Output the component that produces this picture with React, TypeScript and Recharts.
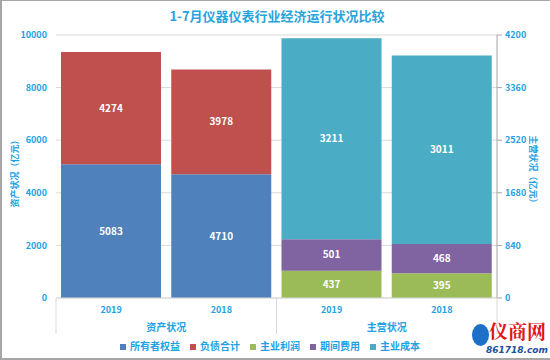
import { Bar, ComposedChart, XAxis, YAxis, CartesianGrid, Legend, LabelList } from "recharts";

const years = ["2019", "2018", "2019", "2018"];
const groups = ["资产状况", "资产状况", "主营状况", "主营状况"];
const ownerEquity = [5083, 4710, null, null];
const liabilities = [4274, 3978, null, null];
const mainProfit = [null, null, 437, 395];
const periodExpense = [null, null, 501, 468];
const mainCost = [null, null, 3211, 3011];
const leftTicks = [0, 2000, 4000, 6000, 8000, 10000];
const rightTicks = [0, 840, 1680, 2520, 3360, 4200];

const data = years.map((year, i) => ({
  name: year,
  group: groups[i],
  owner: ownerEquity[i],
  debt: liabilities[i],
  profit: mainProfit[i],
  expense: periodExpense[i],
  cost: mainCost[i],
}));

const BLUE_TEXT = "#1ea2e3";
const FONT = "'Noto Sans CJK SC', 'Noto Sans', sans-serif";
const GRID = "#d9d9d9";

const series = [
  { key: "owner", name: "所有者权益", color: "#4f81bd", axis: "left", stack: "asset" },
  { key: "debt", name: "负债合计", color: "#c0504d", axis: "left", stack: "asset" },
  { key: "profit", name: "主业利润", color: "#9bbb59", axis: "right", stack: "main" },
  { key: "expense", name: "期间费用", color: "#8064a2", axis: "right", stack: "main" },
  { key: "cost", name: "主业成本", color: "#4bacc6", axis: "right", stack: "main" },
];

// keep legend in series order (recharts 3 sorts by value by default)
const legendOrder = (item: any) => series.findIndex((s) => s.key === item.dataKey);

// rotated axis title, centred a bit below the middle of the axis
const AxisTitle = ({ viewBox, text, left }: any) => {
  const cx = left ? viewBox.x + 14 : viewBox.x + viewBox.width - 17;
  const cy = viewBox.y + viewBox.height / 2 + 5;
  return (
    <text
      x={cx}
      y={cy}
      transform={`rotate(${left ? -90 : 90} ${cx} ${cy})`}
      textAnchor="middle"
      dominantBaseline="central"
      fill={BLUE_TEXT}
      fontSize={9}
      fontWeight="bold"
      fontFamily={FONT}
    >
      {text}
    </text>
  );
};

const CategoryTick = (props: any) => {
  const { x, y, payload } = props;
  const index = payload.index;
  const half = payload.offset || 55.25;
  const item = data[index];
  const lineTop = y;
  const lineBottom = y + 36;
  return (
    <g>
      <text
        x={x}
        y={y + 12}
        dy="0.35em"
        textAnchor="middle"
        fill={BLUE_TEXT}
        fontSize={9}
        fontWeight="bold"
        fontFamily={FONT}
      >
        {item.name}
      </text>
      {(index === 0 || index === 2) && (
        <>
          <line x1={x - half} x2={x - half} y1={lineTop} y2={lineBottom} stroke={GRID} />
          <text
            x={x + half}
            y={y + 29}
            dy="0.35em"
            textAnchor="middle"
            fill={BLUE_TEXT}
            fontSize={10}
            fontWeight="bold"
            fontFamily={FONT}
          >
            {item.group}
          </text>
        </>
      )}
      {index === data.length - 1 && (
        <line x1={x + half} x2={x + half} y1={lineTop} y2={lineBottom} stroke={GRID} />
      )}
    </g>
  );
};

export default function App() {
  return (
    <div
      style={{
        position: "absolute",
        left: 0,
        top: 0,
        width: 550,
        height: 360,
        boxSizing: "border-box",
        borderLeft: "2px solid #a6a6a6",
        borderTop: "1px solid #a6a6a6",
        borderBottom: "2px solid #a6a6a6",
        background: "#fff",
        fontFamily: FONT,
      }}
    >
      <div
        style={{
          position: "absolute",
          left: 0,
          top: 6,
          width: 550,
          textAlign: "center",
          color: "#29a3dc",
          fontSize: 13,
          fontWeight: "bold",
          lineHeight: "18px",
        }}
      >
        1-7月仪器仪表行业经济运行状况比较
      </div>
      <div style={{ position: "absolute", left: -2, top: -1 }}>
        <ComposedChart
          width={550}
          height={360}
          data={data}
          margin={{ top: 35, right: 0, bottom: 1, left: 0 }}
          barSize={100}
          barGap={-100}
        >
          <CartesianGrid yAxisId="left" vertical={false} stroke={GRID} />
          <XAxis
            dataKey="name"
            height={40}
            tickLine={false}
            tickSize={0}
            tickMargin={0}
            axisLine={{ stroke: GRID }}
            tick={<CategoryTick />}
            interval={0}
          />
          <YAxis
            yAxisId="left"
            orientation="left"
            width={56}
            domain={[0, 10000]}
            ticks={leftTicks}
            axisLine={false}
            tickLine={false}
            tickSize={0}
            tickMargin={9}
            tick={{ fill: BLUE_TEXT, fontSize: 9, fontWeight: "bold", fontFamily: FONT }}
            label={(p: any) => <AxisTitle {...p} text="资产状况（亿元）" left />}
          />
          <YAxis
            yAxisId="right"
            orientation="right"
            width={53}
            domain={[0, 4200]}
            ticks={rightTicks}
            axisLine={{ stroke: "#a6a6a6" }}
            tickLine={{ stroke: "#a6a6a6" }}
            tickSize={5}
            tickMargin={3}
            tick={{ fill: BLUE_TEXT, fontSize: 9, fontWeight: "bold", fontFamily: FONT }}
            label={(p: any) => <AxisTitle {...p} text="主营状况（亿元）" />}
          />
          <Legend
            verticalAlign="bottom"
            align="center"
            iconType="square"
            iconSize={6}
            itemSorter={legendOrder}
            wrapperStyle={{ height: 21, fontSize: 10, fontWeight: "bold", fontFamily: FONT }}
            formatter={(value: string) => <span style={{ color: BLUE_TEXT }}>{value}</span>}
          />
          {series.map((s) => (
            <Bar
              key={s.key}
              dataKey={s.key}
              name={s.name}
              fill={s.color}
              yAxisId={s.axis}
              stackId={s.stack}
              isAnimationActive={false}
            >
              <LabelList
                dataKey={s.key}
                position="center"
                fill="#ffffff"
                fontSize={10}
                fontWeight="bold"
                fontFamily={FONT}
              />
            </Bar>
          ))}
        </ComposedChart>
      </div>
      <div
        style={{
          position: "absolute",
          left: 470,
          top: 323,
          width: 17,
          height: 22,
          borderRadius: "50%",
          background: "#1d6fc7",
        }}
      />
      <div
        style={{
          position: "absolute",
          left: 487,
          top: 318,
          color: "#e0141a",
          fontSize: 19,
          fontWeight: "bold",
          lineHeight: "24px",
          fontFamily: "'Noto Serif CJK SC', 'Noto Sans CJK SC', serif",
        }}
      >
        仪商网
      </div>
      <div
        style={{
          position: "absolute",
          left: 484,
          top: 343,
          color: "#1d4f9c",
          fontSize: 9,
          fontWeight: "bold",
          fontStyle: "italic",
          lineHeight: "12px",
          fontFamily: "'DejaVu Sans', sans-serif",
        }}
      >
        861718.com
      </div>
    </div>
  );
}
